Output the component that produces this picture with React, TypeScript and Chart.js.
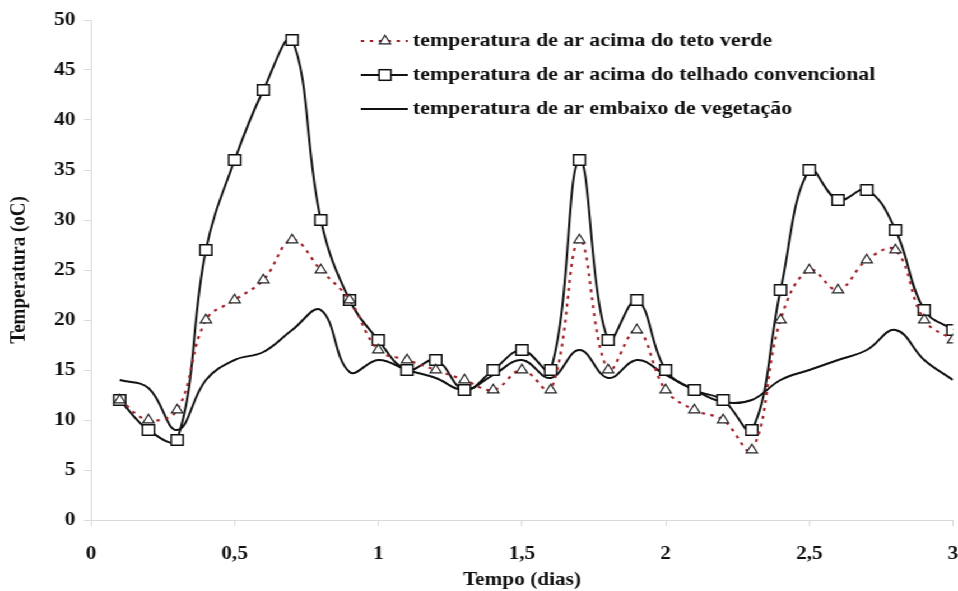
import React, { useEffect, useRef } from "react";
import { Chart, registerables } from "chart.js";

Chart.register(...registerables);

const xValues = [0.1, 0.2, 0.3, 0.4, 0.5, 0.6, 0.7, 0.8, 0.9, 1.0, 1.1, 1.2, 1.3, 1.4, 1.5, 1.6, 1.7, 1.8, 1.9, 2.0, 2.1, 2.2, 2.3, 2.4, 2.5, 2.6, 2.7, 2.8, 2.9, 3.0];
const tetoVerde = [12, 10, 11, 20, 22, 24, 28, 25, 22, 17, 16, 15, 14, 13, 15, 13, 28, 15, 19, 13, 11, 10, 7, 20, 25, 23, 26, 27, 20, 18];
const telhadoConvencional = [12, 9, 8, 27, 36, 43, 48, 30, 22, 18, 15, 16, 13, 15, 17, 15, 36, 18, 22, 15, 13, 12, 9, 23, 35, 32, 33, 29, 21, 19];
const embaixoVegetacao = [14, 13.2, 9, 14, 16, 16.8, 19, 21, 14.8, 16, 15, 14.2, 13, 14.5, 16, 14.2, 17, 14.2, 16, 14.5, 13, 11.8, 12, 14, 15, 16, 17, 19, 16, 14];
const seriesLabels = [
  "temperatura de ar acima do teto verde",
  "temperatura de ar acima do telhado convencional",
  "temperatura de ar embaixo de vegetação",
];
const xTitle = "Tempo (dias)";
const yTitle = "Temperatura (oC)";

const CW = 855;
const CH = 591;
const SX = 958 / CW;
const FONT = "'Liberation Serif', 'Times New Roman', serif";
const RED = "#a3222b";
const AXIS = "#d9d9d9";

const toPts = (ys: number[]) => ys.map((y, i) => ({ x: xValues[i], y }));

const legendPlugin = {
  id: "customLegend",
  afterDraw(chart: any) {
    const ctx = chart.ctx as CanvasRenderingContext2D;
    const x0 = 322;
    const x1 = 364;
    const xm = 343.6;
    const tx = 368.5;
    const rows = [41, 75, 109];
    ctx.save();
    ctx.strokeStyle = RED;
    ctx.lineWidth = 2.2;
    ctx.setLineDash([3, 5]);
    ctx.beginPath();
    ctx.moveTo(x0, rows[0]);
    ctx.lineTo(x1, rows[0]);
    ctx.stroke();
    ctx.setLineDash([]);
    ctx.fillStyle = "#fff";
    ctx.strokeStyle = "#222";
    ctx.lineWidth = 1.2;
    const r = 5.8;
    ctx.beginPath();
    ctx.moveTo(xm, rows[0] - r);
    ctx.lineTo(xm + r * 0.866, rows[0] + r * 0.5);
    ctx.lineTo(xm - r * 0.866, rows[0] + r * 0.5);
    ctx.closePath();
    ctx.fill();
    ctx.stroke();
    ctx.strokeStyle = "#111";
    ctx.lineWidth = 2;
    ctx.beginPath();
    ctx.moveTo(x0, rows[1]);
    ctx.lineTo(x1, rows[1]);
    ctx.stroke();
    ctx.lineWidth = 1.5;
    const s = 5.3;
    ctx.fillRect(xm - s, rows[1] - s, 2 * s, 2 * s);
    ctx.strokeRect(xm - s, rows[1] - s, 2 * s, 2 * s);
    ctx.lineWidth = 2;
    ctx.beginPath();
    ctx.moveTo(x0, rows[2]);
    ctx.lineTo(x1, rows[2]);
    ctx.stroke();
    ctx.fillStyle = "#111";
    ctx.font = `bold 19.5px ${FONT}`;
    ctx.textBaseline = "middle";
    ctx.textAlign = "left";
    seriesLabels.forEach((t, i) => ctx.fillText(t, tx, rows[i]));
    ctx.restore();
  },
};

export default function App() {
  const ref = useRef<HTMLCanvasElement | null>(null);
  useEffect(() => {
    if (!ref.current) return;
    const chart = new Chart(ref.current, {
      type: "line",
      data: {
        datasets: [
          {
            label: seriesLabels[0],
            data: toPts(tetoVerde),
            borderColor: RED,
            borderWidth: 2.2,
            borderDash: [3, 5],
            tension: 0.4,
            pointStyle: "triangle",
            pointRadius: 5.8,
            pointBackgroundColor: "#fff",
            pointBorderColor: "#222",
            pointBorderWidth: 1.2,
            fill: false,
          },
          {
            label: seriesLabels[1],
            data: toPts(telhadoConvencional),
            borderColor: "#111",
            borderWidth: 2,
            tension: 0.4,
            pointStyle: "rect",
            pointRadius: 7.5,
            pointBackgroundColor: "#fff",
            pointBorderColor: "#111",
            pointBorderWidth: 1.5,
            fill: false,
          },
          {
            label: seriesLabels[2],
            data: toPts(embaixoVegetacao),
            borderColor: "#111",
            borderWidth: 2,
            tension: 0.4,
            pointRadius: 0,
            fill: false,
          },
        ],
      },
      options: {
        responsive: false,
        animation: false,
        devicePixelRatio: 1,
        layout: { autoPadding: false, padding: { left: 0, right: 4.5, top: 20, bottom: 0 } },
        plugins: { legend: { display: false }, tooltip: { enabled: false } },
        scales: {
          x: {
            type: "linear",
            min: 0,
            max: 3,
            ticks: {
              stepSize: 0.5,
              padding: 17,
              color: "#111",
              font: { family: FONT, size: 19, weight: "bold" },
              callback: (v: any) => String(v).replace(".", ","),
            },
            grid: { drawOnChartArea: false, drawTicks: true, tickLength: 6, color: AXIS },
            border: { color: AXIS, width: 1 },
            title: {
              display: true,
              text: xTitle,
              color: "#111",
              font: { family: FONT, size: 19, weight: "bold" },
              padding: { top: 0, bottom: 0 },
            },
            afterFit: (scale: any) => {
              scale.height = 71;
              scale.paddingLeft = 0;
              scale.paddingRight = 0;
            },
          },
          y: {
            type: "linear",
            min: 0,
            max: 50,
            ticks: {
              stepSize: 5,
              padding: 8,
              color: "#111",
              font: { family: FONT, size: 19, weight: "bold" },
            },
            grid: { drawOnChartArea: false, drawTicks: true, tickLength: 6, color: AXIS },
            border: { color: AXIS, width: 1 },
            title: {
              display: true,
              text: yTitle,
              color: "#111",
              font: { family: FONT, size: 19, weight: "bold" },
              padding: { top: 6, bottom: 0 },
            },
            afterFit: (scale: any) => {
              scale.width = 81.2;
            },
          },
        },
      },
      plugins: [legendPlugin],
    } as any);
    return () => chart.destroy();
  }, []);
  return (
    <div
      style={{
        position: "fixed",
        left: 0,
        top: 0,
        width: CW,
        height: CH,
        transform: `scaleX(${SX})`,
        transformOrigin: "0 0",
        background: "#fff",
      }}
    >
      <canvas ref={ref} width={CW} height={CH} style={{ width: CW, height: CH, display: "block" }} />
    </div>
  );
}
